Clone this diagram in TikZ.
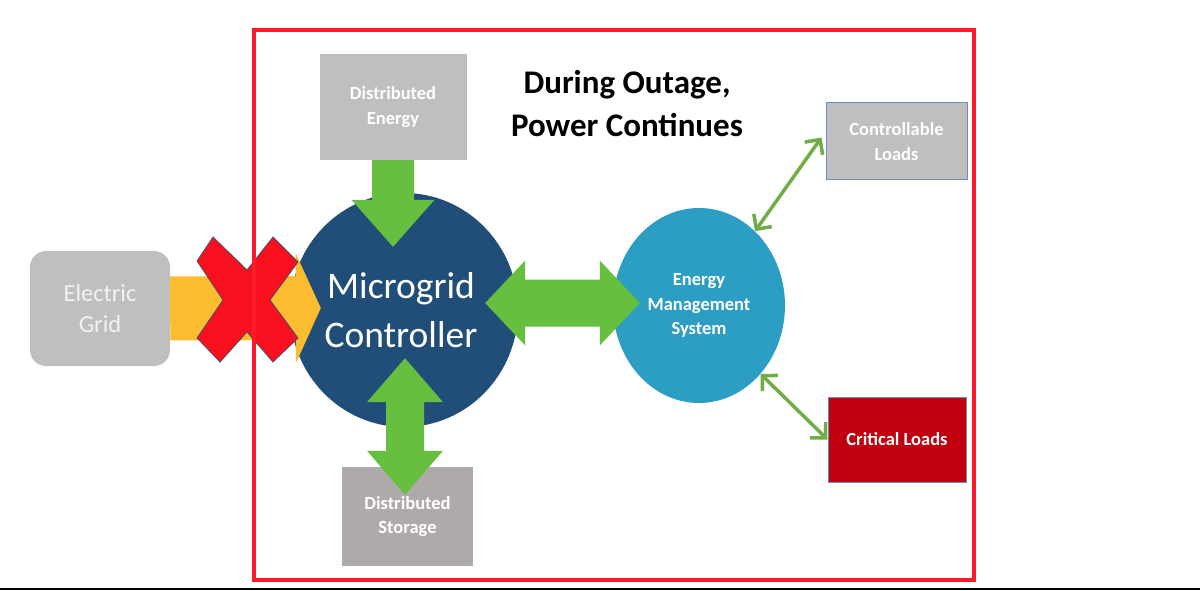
\documentclass[tikz,border=0pt]{standalone}
\usepackage{fontspec}
\setmainfont{Carlito}
\usetikzlibrary{shapes.geometric,arrows.meta,calc}
\definecolor{boxgray}{HTML}{BFBFBF}
\definecolor{storegray}{HTML}{AEAAAA}
\definecolor{mcblue}{HTML}{214E78}
\definecolor{emsblue}{HTML}{2C9EC3}
\definecolor{arrowgreen}{HTML}{66BF3E}
\definecolor{thingreen}{HTML}{70AD47}
\definecolor{arrowyellow}{HTML}{FBBC30}
\definecolor{xred}{HTML}{F8101E}
\definecolor{xedge}{HTML}{44546A}
\definecolor{critred}{HTML}{C0000E}
\definecolor{loadedge}{HTML}{6C8EBF}
\definecolor{borderred}{HTML}{FF1A2A}
\newcommand\smallbold{\fontsize{18.5}{24.5}\selectfont\bfseries}
% single fat arrow: style, from, to, half shaft, half head, head length
\newcommand\singlearrow[6]{%
  \coordinate (faS) at (#2);
  \coordinate (faE) at (#3);
  \coordinate (faH) at ($(faE)!#6!(faS)$);
  \fill[#1] ($(faS)!#4!90:(faE)$) -- ($(faH)!#4!90:(faE)$) -- ($(faH)!#5!90:(faE)$)
    -- (faE) -- ($(faH)!#5!-90:(faE)$) -- ($(faH)!#4!-90:(faE)$) -- ($(faS)!#4!-90:(faE)$) -- cycle;
}
% double fat arrow
\newcommand\doublearrow[6]{%
  \coordinate (faS) at (#2);
  \coordinate (faE) at (#3);
  \coordinate (faH) at ($(faE)!#6!(faS)$);
  \coordinate (faG) at ($(faS)!#6!(faE)$);
  \fill[#1] (faS) -- ($(faG)!#5!-90:(faS)$) -- ($(faG)!#4!-90:(faS)$) -- ($(faH)!#4!90:(faE)$)
    -- ($(faH)!#5!90:(faE)$) -- (faE) -- ($(faH)!#5!-90:(faE)$) -- ($(faH)!#4!-90:(faE)$)
    -- ($(faG)!#4!90:(faS)$) -- ($(faG)!#5!90:(faS)$) -- cycle;
}
\tikzset{
  graybox/.style={fill=boxgray, text=white, inner sep=0pt, font=\smallbold, align=center},
  storebox/.style={fill=storegray, text=white, inner sep=0pt, font=\smallbold, align=center},
  loadbox/.style={draw=loadedge, line width=1pt, text=white, inner sep=0pt, font=\smallbold, align=center},
  egbox/.style={fill=boxgray, text=black!5, inner sep=0pt, rounded corners=16pt,
    font=\fontsize{24.5}{31}\selectfont, align=center},
  bigcircle/.style={ellipse, inner sep=0pt, text=white, align=center},
  thinarrow/.style={draw=thingreen, line width=3.5pt,
    {Straight Barb[length=11pt,width=22pt]}-{Straight Barb[length=11pt,width=22pt]}},
  frame/.style={draw=borderred, line width=4pt},
}
\begin{document}
\begin{tikzpicture}[x=1pt,y=-1pt]
\useasboundingbox (0,0) rectangle (1200,591);
% boxes
\node[graybox, minimum width=147pt, minimum height=106pt] (de) at (393,107) {Distributed\\Energy};
\node[storebox, minimum width=131pt, minimum height=99pt] (ds) at (407.5,516.5) {Distributed\\Storage};
\node[loadbox, fill=boxgray, minimum width=141pt, minimum height=77pt] (cl) at (896.5,141.5) {Controllable\\Loads};
\node[loadbox, fill=critred, minimum width=138pt, minimum height=85pt] (crit) at (897,439.5) {Critical Loads};
\node[egbox, minimum width=140pt, minimum height=115pt] (eg) at (100,308.5) {Electric\\Grid};
% circles
\node[bigcircle, fill=mcblue, minimum width=228pt, minimum height=234pt,
  font=\fontsize{37.5}{49}\selectfont] (mc) at (404,310) {\hspace*{-6pt}Microgrid\\\hspace*{-6pt}Controller};
\node[bigcircle, fill=emsblue, minimum width=172pt, minimum height=195pt,
  font=\smallbold] (ems) at (699,305.5) {\raisebox{-3pt}{Energy}\\\raisebox{-3pt}{Management}\\\raisebox{-3pt}{System}};
% title
\node[font=\fontsize{33}{43}\selectfont\bfseries, align=center] (title) at (627,104) {During Outage,\\Power Continues};
% fat arrows
\singlearrow{fill=arrowyellow}{eg.east}{$(mc.west)+(31,-2)$}{32pt}{55pt}{25pt}
\singlearrow{fill=arrowgreen}{de.south}{$(mc.north)+(-11,54)$}{21pt}{41.5pt}{47pt}
\doublearrow{fill=arrowgreen}{$(mc.south)+(1,-69)$}{$(ds.north)+(-2.5,28)$}{19pt}{38pt}{44pt}
\doublearrow{fill=arrowgreen}{$(mc.east)+(-33,-7)$}{$(ems.west)+(27,-2.5)$}{23.5pt}{42.5pt}{40pt}
% red cross
\filldraw[fill=xred, draw=xedge, line width=0.8pt]
  (197,261) -- (213,237) -- (247,270) -- (273,237) -- (298,262) -- (270,300)
  -- (298,338) -- (273,362) -- (247,332) -- (220,362) -- (197,338) -- (223,300) -- cycle;
% thin arrows
\draw[thinarrow] (ems.53) -- ($(cl.west)+(-4,-4)$);
\draw[thinarrow] (ems.-48) -- (crit.west);
% frame and bottom rule
\draw[frame] (254,30) rectangle (974,580);
\draw[line width=2pt] (0,589) -- (1200,589);
\end{tikzpicture}
\end{document}
